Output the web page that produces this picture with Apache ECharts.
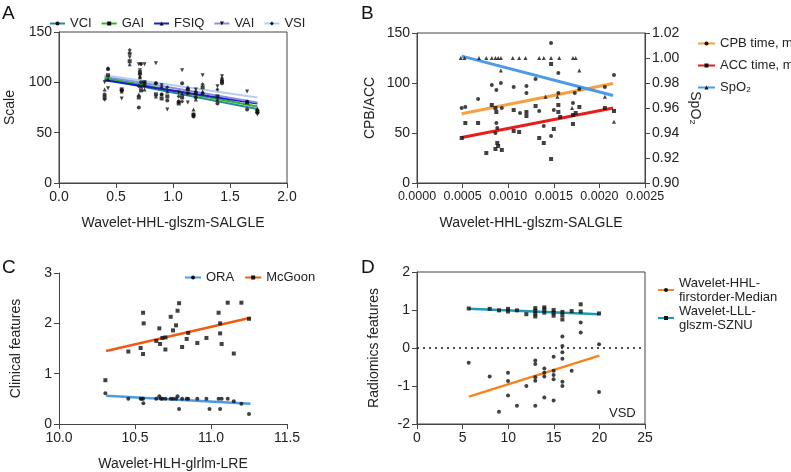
<!DOCTYPE html>
<html><head><meta charset="utf-8">
<script src="https://cdn.jsdelivr.net/npm/echarts@6/dist/echarts.min.js"></script>
<style>html,body{margin:0;padding:0;background:#fff}#c{width:791px;height:472px}</style>
</head><body><div id="c"></div>
<script>
// ---------- Panel A ----------
const aX    = [0.40,0.43,0.55,0.62,0.70,0.71,0.72,0.75,0.85,0.90,0.95,1.05,1.08,1.13,1.18,1.20,1.26,1.39,1.43,1.65,1.74];
const aVCI  = [88,113,92,129,75,108,100,97,99,88,82,81,99,89,66,85,89,79,99,73,70];
const aGAI  = [85,107,93,121,85,110,92,100,88,84,86,79,85,93,68,89,95,86,101,80,71];
const aFSIQ = [93,103,91,118,88,105,96,93,86,96,91,81,89,95,73,83,91,83,103,81,74];
const aVAI  = [100,94,84,125,118,112,118,118,119,97,73,90,112,80,66,93,107,96,106,91,68];
const aVSI  = [83,114,92,132,96,105,118,100,99,88,95,86,81,93,68,91,98,93,104,81,72];
const aFitX = [0.40, 1.74];
const aVCIFit  = [103, 73.5];
const aGAIFit  = [104.5, 76];
const aFSIQFit = [102, 79];
const aVAIFit  = [106, 80];
const aVSIFit  = [107, 85];

// ---------- Panel B ----------
const bCpbX = [0.00049,0.00053,0.00067,0.00082,0.00087,0.00092,0.00093,0.00087,0.00088,0.00086,0.00106,0.00120,0.00120,0.00130,0.00113,0.00134,0.00139,0.00147,0.00147,0.00150,0.00155,0.00155,0.00171,0.00173,0.00178,0.00206,0.00216];
const bCpbY = [75,76,84,98,93,100,75,60,55,50,96,90,97,104,70,72,57,140,47,73,110,90,80,90,94,96,108];
const bAccX = [0.00049,0.00053,0.00067,0.00076,0.00082,0.00086,0.00087,0.00088,0.00089,0.00086,0.00093,0.00106,0.00106,0.00112,0.00120,0.00120,0.00130,0.00134,0.00139,0.00147,0.00147,0.00150,0.00155,0.00155,0.00157,0.00171,0.00171,0.00174,0.00178,0.00206,0.00216];
const bAccY = [45,60,60,30,78,75,71,40,37,34,33,73,52,51,71,67,77,45,40,119,24,54,78,71,66,59,68,70,76,75,72];
const bSpoX = [0.00048,0.00052,0.00068,0.00076,0.00082,0.00086,0.00089,0.00092,0.00105,0.00112,0.00119,0.00134,0.00139,0.00147,0.00156,0.00171,0.00174,0.00092,0.00141,0.00154,0.00170,0.00178,0.00206,0.00216];
const bSpoY = [1,1,1,1,1,1,1,1,1,1,1,1,1,1,1,1,1,0.99,0.969,0.969,0.96,0.99,0.969,0.949];
const bFitX = [0.00049, 0.00215];
const bCpbFit = [69.2, 99.5];
const bAccFit = [45.5, 75];
const bSpoFit = [1.0015, 0.970];

// ---------- Panel C ----------
const cMcX = [10.305,10.456,10.537,10.553,10.557,10.553,10.64,10.66,10.665,10.68,10.70,10.70,10.735,10.75,10.77,10.78,10.79,10.81,10.84,10.85,10.91,10.97,11.05,11.06,11.06,11.07,11.11,11.15,11.20,11.25];
const cMcY = [0.87,1.44,1.51,2.21,2.0,1.39,1.65,1.90,1.59,1.71,1.72,1.48,2.13,1.86,1.96,2.25,2.40,1.53,1.69,1.81,1.61,1.71,2.21,2.0,1.80,1.59,2.41,1.40,2.41,2.09];
const cOraX = [10.305,10.456,10.537,10.545,10.553,10.555,10.64,10.66,10.67,10.68,10.70,10.735,10.75,10.77,10.78,10.79,10.81,10.84,10.85,10.91,10.97,10.99,11.05,11.06,11.07,11.11,11.15,11.20,11.25];
const cOraY = [0.61,0.5,0.5,0.5,0.5,0.41,0.5,0.55,0.5,0.5,0.5,0.5,0.5,0.5,0.55,0.3,0.5,0.5,0.5,0.5,0.5,0.3,0.5,0.3,0.5,0.5,0.45,0.4,0.2];
const cFitX = [10.31, 11.26];
const cMcFit = [1.45, 2.11];
const cOraFit = [0.56, 0.40];

// ---------- Panel D ----------
const dSznuX = [5.67,7.97,8.99,9.98,9.98,10.96,11.99,12.97,12.97,12.97,12.97,13.96,13.96,13.96,14.98,14.98,14.98,15.94,15.94,15.94,16.96,17.95,17.95,19.96];
const dSznuY = [1.04,1.03,0.99,1.03,0.96,0.99,0.89,1.05,0.98,0.90,0.83,1.07,1.02,0.93,1.00,0.93,0.85,0.95,0.86,0.75,0.97,1.15,0.96,0.91];
const dMedX = [5.67,7.97,8.99,9.98,9.98,9.98,10.96,11.99,12.97,12.97,12.97,12.97,12.97,13.96,13.96,13.96,13.96,14.98,14.98,14.98,14.98,14.98,15.94,15.94,15.94,15.94,15.94,15.94,16.96,17.95,17.95,19.96,19.96];
const dMedY = [-0.39,-0.75,-1.68,-0.65,-0.87,-1.25,-1.52,-1.0,-0.33,-0.42,-0.77,-0.86,-1.52,-0.54,-0.65,-0.75,-1.30,-0.23,-0.60,-0.71,-0.82,-1.38,0.30,0.05,-0.11,-0.28,-0.89,-1.00,-0.60,0.67,0.41,0.10,-1.16];
const dFitX = [5.7, 20];
const dMedFit = [-1.28, -0.2];
const dSznuFit = [1.03, 0.89];

// ---------- build ----------
const FONT = 'Liberation Sans';
const TXT = '#222';
const AX = '#444';
const zip = (xs, ys) => xs.map((x, i) => [x, ys[i]]);
const triDown = 'path://M0,0 L10,0 L5,9 Z';

function fit(name, color, width, symbol, xi, yi, xs, ys) {
  return { type: 'line', name, xAxisIndex: xi, yAxisIndex: yi, data: zip(xs, ys),
    symbol, symbolSize: 4, showSymbol: false, itemStyle: { color: '#111' },
    lineStyle: { color, width }, silent: true, z: 3 };
}
function pts(name, symbol, xi, yi, xs, ys, size) {
  return { type: 'scatter', name: name + ' pts', xAxisIndex: xi, yAxisIndex: yi, data: zip(xs, ys),
    symbol, symbolSize: size || 4, itemStyle: { color: '#111' }, silent: true, z: 4 };
}
function xAx(gi, min, max, interval, name, fmt, fs) {
  return { type: 'value', gridIndex: gi, min, max, interval,
    name, nameLocation: 'middle', nameGap: 33, nameTextStyle: { fontFamily: FONT, fontSize: 14, color: TXT },
    axisLine: { show: true, onZero: false, lineStyle: { color: AX, width: 1 } },
    axisTick: { show: true, length: 5, lineStyle: { color: AX } },
    axisLabel: { fontFamily: FONT, fontSize: fs || 14, color: TXT, margin: 7, formatter: fmt, interval: 0, hideOverlap: false },
    splitLine: { show: false } };
}
function yAx(gi, min, max, interval, name, gap, fmt, pos) {
  return { type: 'value', gridIndex: gi, min, max, interval, position: pos || 'left',
    name, nameLocation: 'middle', nameGap: gap, nameRotate: pos === 'right' ? -90 : 90,
    nameTextStyle: { fontFamily: FONT, fontSize: 14, color: TXT },
    axisLine: { show: true, onZero: false, lineStyle: { color: AX, width: 1 } },
    axisTick: { show: true, length: 5, lineStyle: { color: AX } },
    axisLabel: { fontFamily: FONT, fontSize: 14, color: TXT, margin: 7, formatter: fmt },
    splitLine: { show: false } };
}
const legText = { fontFamily: FONT, fontSize: 13, color: TXT };

const option = {
  animation: false,
  backgroundColor: '#fff',
  grid: [
    { left: 59, top: 32, width: 228, height: 151, show: true, borderColor: AX, borderWidth: 1 },
    { left: 417, top: 33, width: 228, height: 150, show: true, borderColor: AX, borderWidth: 1 },
    { left: 59, top: 273, width: 228, height: 153, show: false },
    { left: 417, top: 272, width: 228, height: 152, show: true, borderColor: AX, borderWidth: 1 }
  ],
  xAxis: [
    xAx(0, 0, 2, 0.5, 'Wavelet-HHL-glszm-SALGLE', v => v.toFixed(1)),
    xAx(1, 0, 0.0025, 0.0005, 'Wavelet-HHL-glszm-SALGLE', v => v.toFixed(4), 12.5),
    xAx(2, 10, 11.5, 0.5, 'Wavelet-HLH-glrlm-LRE', v => v.toFixed(1)),
    xAx(3, 0, 25, 5, '', v => String(v))
  ],
  yAxis: [
    yAx(0, 0, 150, 50, 'Scale', 42),
    yAx(1, 0, 150, 50, 'CPB/ACC', 40),
    yAx(1, 0.90, 1.02, 0.02, 'SpO\u2082', 43, v => v.toFixed(2), 'right'),
    yAx(2, 0, 3, 1, 'Clinical features', 36),
    yAx(3, -2, 2, 1, 'Radiomics features', 36)
  ],
  legend: [
    { data: ['VCI', 'GAI', 'FSIQ', 'VAI', 'VSI'], left: 49, top: 17, padding: 0, itemWidth: 15, itemHeight: 5, itemGap: 9, textStyle: legText },
    { data: ['CPB time, min', 'ACC time, min', 'SpO\u2082'], orient: 'vertical', left: 697, top: 37, padding: 0, itemWidth: 17, itemHeight: 5, itemGap: 9, textStyle: legText },
    { data: ['ORA', 'McGoon'], left: 184, top: 271, padding: 0, itemWidth: 16, itemHeight: 5, itemGap: 10, textStyle: legText },
    { data: ['Wavelet-HHL-\nfirstorder-Median', 'Wavelet-LLL-\nglszm-SZNU'], orient: 'vertical', left: 657, top: 276, padding: 0, itemWidth: 16, itemHeight: 5, itemGap: 0, textStyle: Object.assign({ lineHeight: 14 }, legText) }
  ],
  graphic: [
    { type: 'text', left: 2, top: 4, style: { text: 'A', font: '19px "' + FONT + '"', fill: '#111' } },
    { type: 'text', left: 361, top: 4, style: { text: 'B', font: '19px "' + FONT + '"', fill: '#111' } },
    { type: 'text', left: 2, top: 258, style: { text: 'C', font: '19px "' + FONT + '"', fill: '#111' } },
    { type: 'text', left: 361, top: 258, style: { text: 'D', font: '19px "' + FONT + '"', fill: '#111' } },
    { type: 'text', left: 609, top: 407, style: { text: 'VSD', font: '13px "' + FONT + '"', fill: TXT } }
  ],
  series: [
    // A
    pts('VCI', 'circle', 0, 0, aX, aVCI),
    pts('GAI', 'rect', 0, 0, aX, aGAI),
    pts('FSIQ', 'triangle', 0, 0, aX, aFSIQ),
    pts('VAI', triDown, 0, 0, aX, aVAI),
    pts('VSI', 'diamond', 0, 0, aX, aVSI),
    fit('VCI', '#2a8a99', 2, 'circle', 0, 0, aFitX, aVCIFit),
    fit('GAI', '#2cb52c', 2, 'rect', 0, 0, aFitX, aGAIFit),
    fit('FSIQ', '#1c1ccc', 2, 'triangle', 0, 0, aFitX, aFSIQFit),
    fit('VAI', '#8b8bef', 2, triDown, 0, 0, aFitX, aVAIFit),
    fit('VSI', '#b3d0f2', 2, 'diamond', 0, 0, aFitX, aVSIFit),
    // B
    pts('CPB time, min', 'circle', 1, 1, bCpbX, bCpbY),
    pts('ACC time, min', 'rect', 1, 1, bAccX, bAccY),
    pts('SpO\u2082', 'triangle', 1, 2, bSpoX, bSpoY),
    fit('CPB time, min', '#f7a040', 3, 'circle', 1, 1, bFitX, bCpbFit),
    fit('ACC time, min', '#e81e1a', 3, 'rect', 1, 1, bFitX, bAccFit),
    fit('SpO\u2082', '#4a9be8', 3, 'triangle', 1, 2, bFitX, bSpoFit),
    // C
    pts('ORA', 'circle', 2, 3, cOraX, cOraY),
    pts('McGoon', 'rect', 2, 3, cMcX, cMcY),
    fit('ORA', '#4a9be8', 2.5, 'circle', 2, 3, cFitX, cOraFit),
    fit('McGoon', '#f25a14', 2.5, 'rect', 2, 3, cFitX, cMcFit),
    // D
    pts('Wavelet-HHL-\nfirstorder-Median', 'circle', 3, 4, dMedX, dMedY),
    pts('Wavelet-LLL-\nglszm-SZNU', 'rect', 3, 4, dSznuX, dSznuY),
    Object.assign(fit('Wavelet-HHL-\nfirstorder-Median', '#f7831f', 2.5, 'circle', 3, 4, dFitX, dMedFit), {
      markLine: { silent: true, symbol: 'none', label: { show: false },
        lineStyle: { type: [2, 4], color: '#111', width: 1.5 }, data: [{ yAxis: 0 }] } }),
    fit('Wavelet-LLL-\nglszm-SZNU', '#1a9bb2', 2.5, 'rect', 3, 4, dFitX, dSznuFit)
  ]
};
const chart = echarts.init(document.getElementById('c'), null, { renderer: 'canvas' });
chart.setOption(option);
</script></body></html>
